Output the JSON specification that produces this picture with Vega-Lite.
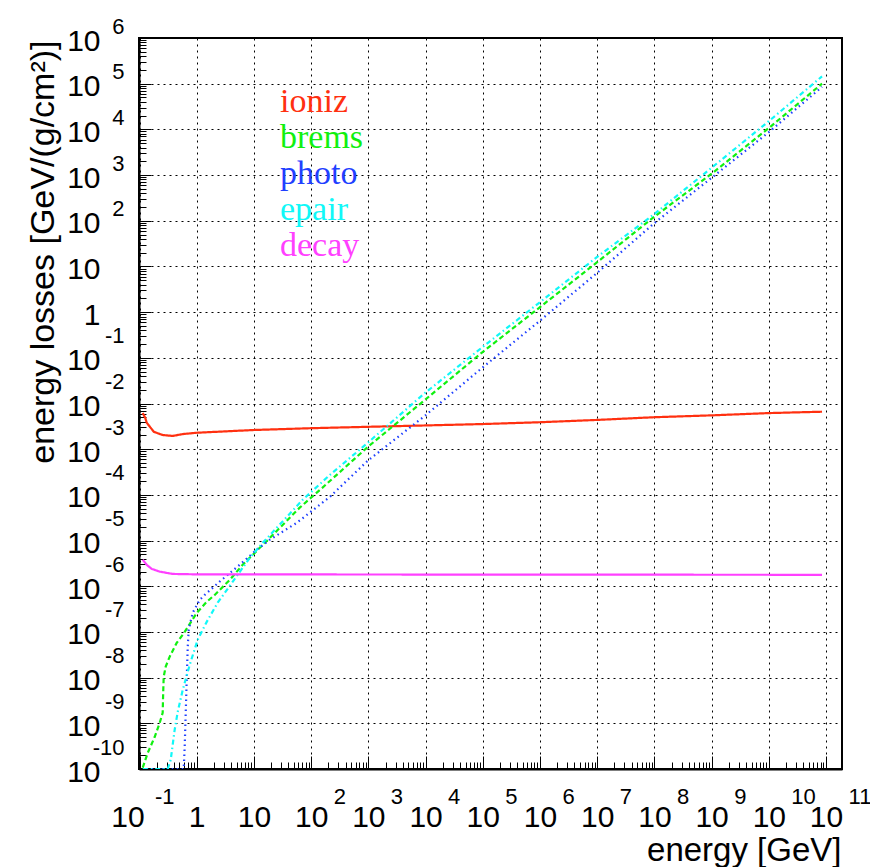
{
  "$schema": "https://vega.github.io/schema/vega-lite/v6.json",
  "width": 703,
  "height": 731,
  "autosize": "none",
  "padding": {"left": 139, "top": 38, "right": 28, "bottom": 98},
  "background": "white",
  "config": {
    "view": {"stroke": "black", "strokeWidth": 2},
    "axis": {"labelFont": "Liberation Sans", "titleFont": "Liberation Sans", "labelColor": "black", "titleColor": "black", "titleFontWeight": "normal"}
  },
  "data": {"values": [
    {"p": "ioniz", "E": 0.1138, "L": 6.17e-3},
    {"p": "ioniz", "E": 0.126, "L": 4.84e-3},
    {"p": "ioniz", "E": 0.1337, "L": 3.80e-3},
    {"p": "ioniz", "E": 0.178, "L": 2.40e-3},
    {"p": "ioniz", "E": 0.2541, "L": 2.04e-3},
    {"p": "ioniz", "E": 0.3802, "L": 1.95e-3},
    {"p": "ioniz", "E": 0.5689, "L": 2.14e-3},
    {"p": "ioniz", "E": 1, "L": 2.29e-3},
    {"p": "ioniz", "E": 10, "L": 2.63e-3},
    {"p": "ioniz", "E": 100, "L": 2.88e-3},
    {"p": "ioniz", "E": 1e3, "L": 3.09e-3},
    {"p": "ioniz", "E": 1e4, "L": 3.31e-3},
    {"p": "ioniz", "E": 1e5, "L": 3.55e-3},
    {"p": "ioniz", "E": 1e6, "L": 3.89e-3},
    {"p": "ioniz", "E": 1e7, "L": 4.37e-3},
    {"p": "ioniz", "E": 1e8, "L": 5.01e-3},
    {"p": "ioniz", "E": 1e9, "L": 5.50e-3},
    {"p": "ioniz", "E": 1e10, "L": 6.17e-3},
    {"p": "ioniz", "E": 8.51e10, "L": 6.61e-3},

    {"p": "brems", "E": 0.1138, "L": 1.07e-10},
    {"p": "brems", "E": 0.139, "L": 2.24e-10},
    {"p": "brems", "E": 0.184, "L": 5.01e-10},
    {"p": "brems", "E": 0.2254, "L": 1.02e-9},
    {"p": "brems", "E": 0.2541, "L": 1.70e-9},
    {"p": "brems", "E": 0.2594, "L": 4.68e-9},
    {"p": "brems", "E": 0.2649, "L": 1.05e-8},
    {"p": "brems", "E": 0.2871, "L": 1.74e-8},
    {"p": "brems", "E": 0.3373, "L": 2.88e-8},
    {"p": "brems", "E": 0.4467, "L": 5.75e-8},
    {"p": "brems", "E": 0.6166, "L": 1.0e-7},
    {"p": "brems", "E": 1, "L": 2.6e-7},
    {"p": "brems", "E": 1.496, "L": 4.57e-7},
    {"p": "brems", "E": 2.065, "L": 6.46e-7},
    {"p": "brems", "E": 3.776, "L": 1.38e-6},
    {"p": "brems", "E": 6.368, "L": 2.95e-6},
    {"p": "brems", "E": 21.38, "L": 1.33e-5},
    {"p": "brems", "E": 63.1, "L": 5.25e-5},
    {"p": "brems", "E": 154.9, "L": 1.41e-4},
    {"p": "brems", "E": 977, "L": 1.12e-3},
    {"p": "brems", "E": 9772, "L": 1.20e-2},
    {"p": "brems", "E": 9.55e4, "L": 0.129},
    {"p": "brems", "E": 9.55e5, "L": 1.23},
    {"p": "brems", "E": 1e7, "L": 12.4},
    {"p": "brems", "E": 1e8, "L": 123},
    {"p": "brems", "E": 1e9, "L": 1070},
    {"p": "brems", "E": 1e10, "L": 1.07e4},
    {"p": "brems", "E": 8.51e10, "L": 1.0e5},

    {"p": "photo", "E": 0.1337, "L": 1e-10},
    {"p": "photo", "E": 0.5929, "L": 1e-10},
    {"p": "photo", "E": 0.6166, "L": 3.09e-10},
    {"p": "photo", "E": 0.6427, "L": 1.70e-9},
    {"p": "photo", "E": 0.6683, "L": 8.91e-9},
    {"p": "photo", "E": 0.6966, "L": 4.68e-8},
    {"p": "photo", "E": 0.7244, "L": 1.12e-7},
    {"p": "photo", "E": 0.8511, "L": 2.63e-7},
    {"p": "photo", "E": 1.127, "L": 5.01e-7},
    {"p": "photo", "E": 1.38, "L": 6.46e-7},
    {"p": "photo", "E": 2.512, "L": 1.26e-6},
    {"p": "photo", "E": 5.623, "L": 2.95e-6},
    {"p": "photo", "E": 11.22, "L": 6.31e-6},
    {"p": "photo", "E": 19.05, "L": 1.05e-5},
    {"p": "photo", "E": 56.2, "L": 2.45e-5},
    {"p": "photo", "E": 213.8, "L": 9.12e-5},
    {"p": "photo", "E": 977, "L": 5.6e-4},
    {"p": "photo", "E": 9772, "L": 5.4e-3},
    {"p": "photo", "E": 9.55e4, "L": 5.9e-2},
    {"p": "photo", "E": 9.55e5, "L": 0.62},
    {"p": "photo", "E": 1e7, "L": 7.24},
    {"p": "photo", "E": 1e8, "L": 89.1},
    {"p": "photo", "E": 1e9, "L": 871},
    {"p": "photo", "E": 1e10, "L": 8710},
    {"p": "photo", "E": 8.51e10, "L": 8.51e4},

    {"p": "epair", "E": 0.1138, "L": 1e-10},
    {"p": "epair", "E": 0.311, "L": 1e-10},
    {"p": "epair", "E": 0.3508, "L": 1.58e-10},
    {"p": "epair", "E": 0.3802, "L": 3.39e-10},
    {"p": "epair", "E": 0.4121, "L": 7.24e-10},
    {"p": "epair", "E": 0.4656, "L": 1.78e-9},
    {"p": "epair", "E": 0.5689, "L": 5.37e-9},
    {"p": "epair", "E": 0.7551, "L": 1.91e-8},
    {"p": "epair", "E": 1.04, "L": 6.76e-8},
    {"p": "epair", "E": 1.496, "L": 1.66e-7},
    {"p": "epair", "E": 2.328, "L": 4.37e-7},
    {"p": "epair", "E": 4.266, "L": 1.26e-6},
    {"p": "epair", "E": 8.45, "L": 4.17e-6},
    {"p": "epair", "E": 14.26, "L": 8.91e-6},
    {"p": "epair", "E": 25.1, "L": 1.91e-5},
    {"p": "epair", "E": 70.8, "L": 7.76e-5},
    {"p": "epair", "E": 213.8, "L": 2.75e-4},
    {"p": "epair", "E": 977, "L": 1.38e-3},
    {"p": "epair", "E": 9772, "L": 1.70e-2},
    {"p": "epair", "E": 9.55e4, "L": 0.166},
    {"p": "epair", "E": 9.55e5, "L": 1.58},
    {"p": "epair", "E": 1e7, "L": 16.2},
    {"p": "epair", "E": 1e8, "L": 141},
    {"p": "epair", "E": 1e9, "L": 1445},
    {"p": "epair", "E": 1e10, "L": 1.51e4},
    {"p": "epair", "E": 8.51e10, "L": 1.45e5},

    {"p": "decay", "E": 0.1138, "L": 3.80e-6},
    {"p": "decay", "E": 0.1337, "L": 2.95e-6},
    {"p": "decay", "E": 0.1633, "L": 2.40e-6},
    {"p": "decay", "E": 0.2254, "L": 2.09e-6},
    {"p": "decay", "E": 0.3802, "L": 1.86e-6},
    {"p": "decay", "E": 1, "L": 1.82e-6},
    {"p": "decay", "E": 1e5, "L": 1.80e-6},
    {"p": "decay", "E": 8.51e10, "L": 1.78e-6}
  ]},
  "layer": [
    {
      "mark": {"type": "line", "strokeWidth": 2.2, "clip": true},
      "encoding": {
        "x": {
          "field": "E", "type": "quantitative",
          "scale": {"type": "log", "domain": [0.098, 1.9e11], "nice": false},
          "axis": {
            "orient": "bottom", "tickCount": 100, "labels": false, "labelOverlap": false,
            "grid": true, "gridColor": "black", "gridDash": [2, 4], "gridWidth": 1,
            "gridOpacity": {"condition": {"test": "abs(log(datum.value)/LN10 - round(log(datum.value)/LN10)) < 0.001", "value": 1}, "value": 0},
            "ticks": true, "tickColor": "black", "tickWidth": 1,
            "tickSize": {"condition": {"test": "abs(log(datum.value)/LN10 - round(log(datum.value)/LN10)) < 0.001", "value": -13}, "value": -7},
            "domain": true, "domainColor": "black", "domainWidth": 2,
            "title": "energy [GeV]", "titleFontSize": 33, "titleAlign": "right", "titleBaseline": "alphabetic",
            "titleX": 702, "titleY": 91
          }
        },
        "y": {
          "field": "L", "type": "quantitative",
          "scale": {"type": "log", "domain": [1e-10, 1e6], "nice": false},
          "axis": {
            "orient": "left", "tickCount": 100, "labels": false, "labelOverlap": false,
            "grid": true, "gridColor": "black", "gridDash": [2, 4], "gridWidth": 1,
            "gridOpacity": {"condition": {"test": "abs(log(datum.value)/LN10 - round(log(datum.value)/LN10)) < 0.001", "value": 1}, "value": 0},
            "ticks": true, "tickColor": "black", "tickWidth": 1,
            "tickSize": {"condition": {"test": "abs(log(datum.value)/LN10 - round(log(datum.value)/LN10)) < 0.001", "value": -12}, "value": -7},
            "domain": true, "domainColor": "black", "domainWidth": 2,
            "title": "energy losses [GeV/(g/cm²)]", "titleFontSize": 34, "titleAngle": 270,
            "titleAlign": "right", "titleBaseline": "alphabetic",
            "titleX": -86, "titleY": 2
          }
        },
        "color": {
          "field": "p", "type": "nominal",
          "scale": {"domain": ["ioniz", "brems", "photo", "epair", "decay"], "range": ["#ff3010", "#10f010", "#1f40ff", "#10f8f8", "#ff40ff"]},
          "legend": {
            "orient": "none", "legendX": 107, "legendY": 47, "title": null, "padding": 0,
            "labelFont": "Liberation Serif", "labelFontSize": 34, "labelOffset": 0,
            "symbolSize": 0, "symbolOpacity": 0, "symbolStrokeWidth": 0, "rowPadding": 2,
            "encode": {"labels": {"update": {"fill": {"scale": "color", "field": "value"}}}}
          }
        },
        "strokeDash": {
          "field": "p", "type": "nominal",
          "scale": {"domain": ["ioniz", "brems", "photo", "epair", "decay"], "range": [[1, 0], [5, 3], [1.5, 3.5], [5, 3, 1.5, 3], [1, 0]]},
          "legend": null
        }
      }
    },
    {
      "mark": {"type": "point", "opacity": 0},
      "encoding": {
        "x": {
          "field": "E", "type": "quantitative",
          "scale": {"type": "log", "domain": [0.098, 1.9e11], "nice": false},
          "axis": {
            "orient": "bottom", "values": [0.1, 1, 10, 100, 1e3, 1e4, 1e5, 1e6, 1e7, 1e8, 1e9, 1e10, 1e11],
            "labelExpr": "datum.value == 1 ? '1' : '10'",
            "ticks": false, "domain": false, "grid": false, "title": null,
            "labelFontSize": 30, "labelBaseline": "alphabetic", "labelAlign": "center", "labelPadding": 57,
            "labelOffset": {"condition": {"test": "datum.value < 0.5", "value": -12}, "value": 0},
            "labelOverlap": false, "labelFlush": false, "labelBound": false
          }
        },
        "y": {
          "field": "L", "type": "quantitative",
          "scale": {"type": "log", "domain": [1e-10, 1e6], "nice": false},
          "axis": {
            "orient": "left", "values": [1e-10, 1e-9, 1e-8, 1e-7, 1e-6, 1e-5, 1e-4, 1e-3, 1e-2, 1e-1, 1, 10, 100, 1e3, 1e4, 1e5, 1e6],
            "labelExpr": "datum.value == 1 ? '1' : '10'",
            "ticks": false, "domain": false, "grid": false, "title": null,
            "labelFontSize": 30, "labelBaseline": "middle", "labelAlign": "right", "labelPadding": 39, "labelOffset": 3,
            "labelOverlap": false, "labelFlush": false, "labelBound": false
          }
        }
      }
    },
    {
      "mark": {"type": "point", "opacity": 0},
      "encoding": {
        "x": {
          "field": "E", "type": "quantitative",
          "scale": {"type": "log", "domain": [0.098, 1.9e11], "nice": false},
          "axis": {
            "orient": "bottom", "values": [0.1, 100, 1e3, 1e4, 1e5, 1e6, 1e7, 1e8, 1e9, 1e10, 1e11],
            "labelExpr": "'' + round(log(datum.value)/LN10)",
            "ticks": false, "domain": false, "grid": false, "title": null,
            "labelFontSize": 22, "labelBaseline": "alphabetic", "labelAlign": "left", "labelPadding": 34,
            "labelOffset": {"condition": {"test": "datum.value < 1", "value": 15}, "value": 22},
            "labelOverlap": false, "labelFlush": false, "labelBound": false
          }
        },
        "y": {
          "field": "L", "type": "quantitative",
          "scale": {"type": "log", "domain": [1e-10, 1e6], "nice": false},
          "axis": {
            "orient": "left", "values": [1e-10, 1e-9, 1e-8, 1e-7, 1e-6, 1e-5, 1e-4, 1e-3, 1e-2, 1e-1, 100, 1e3, 1e4, 1e5, 1e6],
            "labelExpr": "'' + round(log(datum.value)/LN10)",
            "ticks": false, "domain": false, "grid": false, "title": null,
            "labelFontSize": 22, "labelBaseline": "middle", "labelAlign": "right", "labelPadding": 15,
            "labelOffset": {"condition": {"test": "datum.value < 1", "value": -22}, "value": -12},
            "labelOverlap": false, "labelFlush": false, "labelBound": false
          }
        }
      }
    }
  ],
  "resolve": {"axis": {"x": "independent", "y": "independent"}}
}
